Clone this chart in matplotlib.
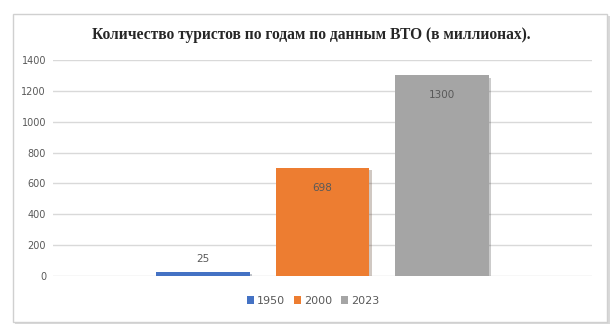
import matplotlib.pyplot as plt
import matplotlib.patches as patches
import matplotlib.patheffects as pe

years = ['1950', '2000', '2023']
tourists = [25, 698, 1300]
colors = ['#4472C4', '#ED7D31', '#A5A5A5']
yticks = [0, 200, 400, 600, 800, 1000, 1200, 1400]

fig = plt.figure(figsize=(6.13, 3.29), dpi=100)
fig.patch.set_facecolor('white')

# chart frame with a soft shadow
shadow = patches.Rectangle((15 / 613, 1 - 324 / 329), 595 / 613, 308 / 329,
                           transform=fig.transFigure, facecolor='#d9d9d9',
                           edgecolor='none', zorder=0)
frame = patches.Rectangle((13 / 613, 1 - 322 / 329), 594 / 613, 308 / 329,
                          transform=fig.transFigure, facecolor='white',
                          edgecolor='#d0d0d0', linewidth=1.0, zorder=1)
fig.patches.extend([shadow, frame])

ax = fig.add_axes([53 / 613, 53 / 329, 539 / 613, 216 / 329])
ax.set_facecolor('none')
ax.set_zorder(2)

pos = [-1, 0, 1]
for x, v, c, lab in zip(pos, tourists, colors, years):
    ax.bar(x, v, width=0.787, color=c, label=lab, zorder=3,
           path_effects=[pe.SimplePatchShadow(offset=(1.5, -1.5), alpha=0.25),
                         pe.Normal()])

ax.set_xlim(-2.26, 2.26)
ax.set_ylim(0, 1400)
ax.set_yticks(yticks)
ax.set_xticks([])
ax.grid(axis='y', color='#d9d9d9', linewidth=1.0, zorder=0)
for s in ax.spines.values():
    s.set_visible(False)
ax.tick_params(axis='y', length=0, pad=5, labelsize=7, labelcolor='#595959')

# value labels: small bar gets its label above, tall bars inside the top
for x, v in zip(pos, tourists):
    dy = 13 if v < 100 else -20
    ax.annotate(str(v), (x, v), xytext=(0, dy), textcoords='offset pixels',
                ha='center', va='center', fontsize=7.5, color='#595959')

fig.text(311 / 613, 1 - 35 / 329,
         'Количество туристов по годам по данным ВТО (в миллионах).',
         ha='center', va='center', fontsize=11.2, fontweight='bold',
         family='Liberation Serif', color='#262626')

leg = fig.legend(*ax.get_legend_handles_labels(), loc='center',
                 bbox_to_anchor=(313 / 613, 1 - 301 / 329),
                 ncol=3, frameon=False, fontsize=8, handlelength=0.65,
                 handleheight=0.65, handletextpad=0.25, columnspacing=0.8)
for h in leg.legend_handles:
    h.set_path_effects([])
for t in leg.get_texts():
    t.set_color('#595959')

fig.savefig('out.png', dpi=100, facecolor='white')
